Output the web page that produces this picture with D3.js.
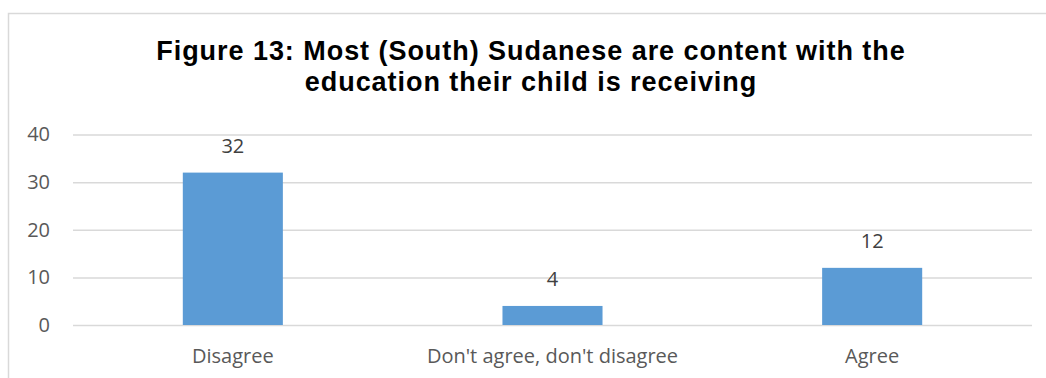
<!DOCTYPE html>
<html><head><meta charset="utf-8">
<script src="https://cdn.jsdelivr.net/npm/d3@7/dist/d3.min.js"></script>
<style>body{margin:0;background:#fff}svg{display:block}</style>
</head><body>
<svg id="c" width="1046" height="378"></svg>
<script>
const categories = ["Disagree", "Don't agree, don't disagree", "Agree"];
const values = [32, 4, 12];
const yTicks = [0, 10, 20, 30, 40];
const titleLines = ["Figure 13: Most (South) Sudanese are content with the", "education their child is receiving"];

const svg = d3.select("#c");
const W = 1046, H = 378;
const m = {left: 73, right: 14, top: 134.5, bottom: 53};
const x = d3.scaleBand().domain(categories).range([m.left, W - m.right]).paddingInner(0.687).paddingOuter(0.3435);
const y = d3.scaleLinear().domain([0, 40]).range([H - m.bottom, m.top]);
const labelFont = "Open Sans, Noto Sans, sans-serif";

// outer border
svg.append("rect").attr("x", 8.5).attr("y", 13.5).attr("width", 1100).attr("height", 400)
  .attr("fill", "none").attr("stroke", "#d9d9d9").attr("stroke-width", 1.5);

// title
svg.append("g").selectAll("text").data(titleLines).join("text")
  .attr("x", 531).attr("y", (d, i) => 59.5 + i * 31.7)
  .attr("text-anchor", "middle").attr("font-family", "Liberation Sans, Arial, sans-serif")
  .attr("font-weight", "bold").attr("font-size", 27).attr("letter-spacing", 0.95)
  .attr("fill", "#000").text(d => d);

// gridlines + y tick labels
const yAxis = d3.axisLeft(y).tickValues(yTicks).tickSize(-(W - m.left - m.right)).tickPadding(23);
const gy = svg.append("g").attr("transform", `translate(${m.left},0)`).call(yAxis);
gy.select(".domain").remove();
gy.selectAll(".tick line").attr("stroke", "#d9d9d9").attr("stroke-width", 1.5);
gy.selectAll(".tick text").attr("font-family", labelFont).attr("font-size", 20)
  .attr("fill", "#595959");

// bars
svg.append("g").selectAll("rect").data(values).join("rect")
  .attr("x", (d, i) => x(categories[i])).attr("width", x.bandwidth())
  .attr("y", d => y(d)).attr("height", d => y(0) - y(d)).attr("fill", "#5b9bd5");

// value labels
svg.append("g").selectAll("text").data(values).join("text")
  .attr("x", (d, i) => x(categories[i]) + x.bandwidth() / 2).attr("y", d => y(d) - 19.5)
  .attr("text-anchor", "middle").attr("font-family", labelFont).attr("font-size", 20)
  .attr("fill", "#404040").text(d => d);

// x axis labels
const xAxis = d3.axisBottom(x).tickSize(0).tickPadding(0);
const gx = svg.append("g").attr("transform", `translate(0,${y(0)})`).call(xAxis);
gx.select(".domain").remove();
gx.selectAll(".tick text").attr("dy", null).attr("y", 38).attr("font-family", labelFont)
  .attr("font-size", 20).attr("fill", "#595959");
</script>
</body></html>
